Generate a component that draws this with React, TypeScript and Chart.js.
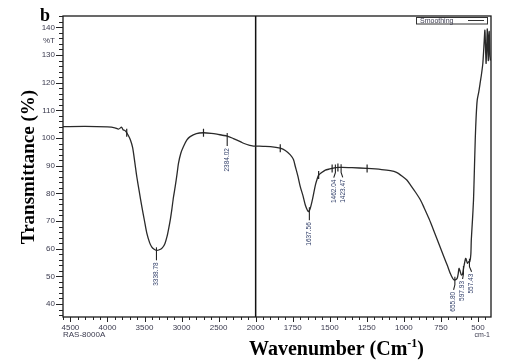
import React, { useEffect, useRef } from 'react';
import { Chart, registerables } from 'chart.js';

Chart.register(...registerables);

// ---- data ----
const wavenumbers = [
  4600, 4300, 4000, 3900, 3850, 3810, 3790, 3770, 3750, 3720, 3690, 3660, 3630, 3604, 3570, 3536, 3500, 3469, 3430, 3401,
  3370, 3339, 3300, 3260, 3225, 3195, 3170, 3150, 3132, 3110, 3086, 3060, 3041, 3010, 2974, 2930, 2884, 2800, 2704, 2600,
  2523, 2450, 2384, 2300, 2200, 2164, 2080, 2030, 2000, 1950, 1900, 1834, 1800, 1766, 1745, 1732, 1715, 1699, 1680, 1665,
  1650, 1642, 1632, 1620, 1608, 1597, 1585, 1575, 1560, 1530, 1500, 1484, 1462, 1440, 1423, 1350, 1248, 1150, 1091, 1050,
  1011, 980, 955, 920, 888, 865, 830, 798, 760, 730, 705, 685, 670, 662, 650, 640, 633, 628, 620, 612,
  605, 595, 583, 576, 571, 563, 555, 548, 545, 537, 530, 526, 518, 512, 505, 495, 484, 475, 467, 460,
  453, 448, 445, 440, 437, 434, 430, 427, 424, 420, 416,
];
const transmittance = [
  104.1, 104.2, 104.0, 103.7, 103.2, 103.9, 103.0, 102.8, 102.3, 101.0, 99.3, 96.5, 91.0, 86.0, 80.5, 75.2, 70.0, 65.6, 62.1, 60.6,
  59.8, 59.4, 59.6, 60.3, 61.8, 64.5, 67.8, 70.8, 74.0, 78.5, 82.4, 87.2, 90.9, 94.5, 96.9, 99.2, 100.5, 101.6, 101.9, 101.7,
  101.4, 101.0, 100.7, 99.8, 98.6, 98.1, 97.3, 97.1, 97.1, 97.0, 96.9, 96.3, 95.5, 93.9, 92.2, 89.6, 86.2, 82.4, 79.0, 75.8,
  73.8, 73.4, 74.5, 77.0, 80.1, 83.0, 85.2, 86.6, 87.3, 88.4, 88.8, 89.0, 89.3, 89.4, 89.4, 89.3, 89.0, 88.6, 88.2, 87.6,
  86.2, 84.8, 83.0, 80.3, 77.6, 75.0, 70.8, 66.5, 61.2, 57.1, 53.7, 50.8, 49.2, 48.7, 48.8, 49.3, 51.0, 52.9, 51.8, 50.5,
  50.6, 53.5, 56.5, 55.5, 54.7, 55.3, 55.3, 58.0, 63.1, 70.4, 77.6, 84.8, 100.0, 108.0, 113.7, 116.5, 120.3, 123.5, 127.0, 133.0,
  139.0, 131.0, 127.0, 135.0, 139.4, 133.0, 128.0, 137.0, 138.5, 130.0, 128.0,
];

const peakWavenumbers = [3338.78, 2384.02, 1637.56, 1462.04, 1423.47, 655.8, 597.93, 557.43];
const peakLabels = ['3338.78', '2384.02', '1637.56', '1462.04', '1423.47', '655.80', '597.93', '557.43'];
const markerWavenumbers = [3740, 2704, 1834, 1575, 1484, 1445, 1248];

const xTickLabelsLeft = [4500, 4000, 3500, 3000, 2500, 2000];
const xTickLabelsRight = [1750, 1500, 1250, 1000, 750, 500];
const yTickLabels = [40, 50, 60, 70, 80, 90, 100, 110, 120, 130, 140];

const X_HIGH = 4600;
const X_SPLIT = 2000;
const X_LOW = 412;
const RIGHT_STRETCH = 2;
const Y_MIN = 35.3;
const Y_MAX = 144.1;

// piecewise position: the region below 2000 cm-1 is drawn twice as wide
const pos = (w: number) => (w >= X_SPLIT ? X_HIGH - w : X_HIGH - X_SPLIT + RIGHT_STRETCH * (X_SPLIT - w));

const interp = (w: number) => {
  for (let i = 0; i < wavenumbers.length - 1; i++) {
    const a = wavenumbers[i];
    const b = wavenumbers[i + 1];
    if (w <= a && w >= b) {
      const t = (a - w) / (a - b);
      return transmittance[i] + t * (transmittance[i + 1] - transmittance[i]);
    }
  }
  return transmittance[transmittance.length - 1];
};

const SANS = '"Liberation Sans", Arial, sans-serif';
const SERIF = '"Liberation Serif", "Times New Roman", serif';

const overlay = {
  id: 'overlay',
  beforeDraw(chart: any) {
    const { ctx, width, height } = chart;
    ctx.save();
    ctx.fillStyle = '#ffffff';
    ctx.fillRect(0, 0, width, height);
    ctx.restore();
  },
  afterDraw(chart: any) {
    const { ctx, chartArea: a } = chart;
    const xs = chart.scales.x;
    const ys = chart.scales.y;
    const px = (w: number) => xs.getPixelForValue(pos(w));
    const py = (v: number) => ys.getPixelForValue(v);
    ctx.save();

    // frame
    ctx.strokeStyle = '#1a1a1a';
    ctx.lineWidth = 1.3;
    ctx.strokeRect(a.left, a.top, a.right - a.left, a.bottom - a.top);

    // x ticks
    ctx.lineWidth = 1;
    ctx.strokeStyle = '#222';
    ctx.beginPath();
    for (let w = X_HIGH; w >= X_SPLIT; w -= 100) {
      const x = Math.round(px(w)) + 0.5;
      const len = w % 500 === 0 ? 5 : 3;
      ctx.moveTo(x, a.bottom);
      ctx.lineTo(x, a.bottom + len);
    }
    for (let w = X_SPLIT - 50; w >= 450; w -= 50) {
      const x = Math.round(px(w)) + 0.5;
      const len = w % 250 === 0 ? 5 : 3;
      ctx.moveTo(x, a.bottom);
      ctx.lineTo(x, a.bottom + len);
    }
    // y ticks
    for (let v = 36; v <= 144; v += 2) {
      const y = Math.round(py(v)) + 0.5;
      const len = v % 10 === 0 ? 7 : 4;
      ctx.moveTo(a.left - len, y);
      ctx.lineTo(a.left, y);
    }
    ctx.stroke();

    // tick labels
    ctx.fillStyle = '#3a3a4e';
    ctx.font = `8px ${SANS}`;
    ctx.textAlign = 'center';
    ctx.textBaseline = 'middle';
    [...xTickLabelsLeft, ...xTickLabelsRight].forEach((w) => {
      ctx.fillText(String(w), px(w), a.bottom + 11);
    });
    ctx.textAlign = 'right';
    yTickLabels.forEach((v) => ctx.fillText(String(v), a.left - 8, py(v)));
    ctx.fillText('%T', a.left - 8, py(135.2));

    ctx.textAlign = 'left';
    ctx.fillText('RAS-8000A', a.left, a.bottom + 18);
    ctx.font = `7px ${SANS}`;
    ctx.textAlign = 'right';
    ctx.fillText('cm-1', a.right - 1, a.bottom + 18);

    // markers on the curve
    ctx.strokeStyle = '#222';
    ctx.lineWidth = 1.2;
    ctx.beginPath();
    markerWavenumbers.forEach((w) => {
      const x = px(w);
      const y = py(interp(w));
      ctx.moveTo(x, y - 4);
      ctx.lineTo(x, y + 4);
    });
    ctx.stroke();

    // peak labels (spread out when crowded)
    const items = peakWavenumbers.map((w, i) => ({ w, label: peakLabels[i], x: px(w), lx: px(w), y: py(interp(w)) }));
    const sorted = [...items].sort((p, q) => p.x - q.x);
    for (let it = 0; it < 20; it++) {
      for (let i = 0; i < sorted.length - 1; i++) {
        const gap = sorted[i + 1].lx - sorted[i].lx;
        if (gap < 9) {
          const d = (9 - gap) / 2;
          sorted[i].lx -= d;
          sorted[i + 1].lx += d;
        }
      }
    }
    ctx.font = `6.5px ${SANS}`;
    ctx.fillStyle = '#33406a';
    items.forEach((p) => {
      const top = p.y + 12;
      ctx.strokeStyle = '#222';
      ctx.lineWidth = 1.1;
      ctx.beginPath();
      ctx.moveTo(p.x, p.y - 3);
      ctx.lineTo(p.x, p.y + 5);
      ctx.lineTo(p.lx, top - 2);
      ctx.stroke();
      ctx.save();
      ctx.translate(p.lx, top);
      ctx.rotate(-Math.PI / 2);
      ctx.textAlign = 'right';
      ctx.textBaseline = 'middle';
      ctx.fillText(p.label, 0, 0);
      ctx.restore();
    });

    // legend box
    ctx.fillStyle = '#ffffff';
    ctx.fillRect(416, 17, 71, 7);
    ctx.strokeStyle = '#333';
    ctx.lineWidth = 1;
    ctx.strokeRect(416.5, 17.5, 71, 6.5);
    ctx.fillStyle = '#3a3a4e';
    ctx.font = `7px ${SANS}`;
    ctx.textAlign = 'left';
    ctx.textBaseline = 'middle';
    ctx.fillText('Smoothing', 420, 21);
    ctx.beginPath();
    ctx.moveTo(468, 20.5);
    ctx.lineTo(484, 20.5);
    ctx.stroke();

    // titles
    ctx.fillStyle = '#000';
    ctx.font = `bold 18px ${SERIF}`;
    ctx.textAlign = 'left';
    ctx.textBaseline = 'alphabetic';
    ctx.fillText('b', 40, 21);

    ctx.save();
    ctx.translate(34, 167);
    ctx.rotate(-Math.PI / 2);
    ctx.font = `bold 19px ${SERIF}`;
    ctx.textAlign = 'center';
    ctx.fillText('Transmittance (%)', 0, 0);
    ctx.restore();

    const base = 355;
    let x = 249;
    ctx.font = `bold 20px ${SERIF}`;
    const main = 'Wavenumber (Cm';
    ctx.fillText(main, x, base);
    x += ctx.measureText(main).width;
    ctx.font = `bold 12px ${SERIF}`;
    ctx.fillText('-1', x, base - 8);
    x += ctx.measureText('-1').width;
    ctx.font = `bold 20px ${SERIF}`;
    ctx.fillText(')', x, base);

    ctx.restore();
  },
};

export default function App() {
  const ref = useRef<HTMLCanvasElement>(null);

  useEffect(() => {
    if (!ref.current) return;
    const spectrum = wavenumbers.map((w, i) => ({ x: pos(w), y: transmittance[i] }));
    const split = [
      { x: pos(X_SPLIT), y: Y_MIN },
      { x: pos(X_SPLIT), y: Y_MAX },
    ];
    const chart = new Chart(ref.current, {
      type: 'line',
      data: {
        datasets: [
          {
            label: 'Smoothing',
            data: spectrum,
            borderColor: '#2a2a2a',
            borderWidth: 1.3,
            pointRadius: 0,
            tension: 0.25,
            fill: false,
          },
          {
            label: 'split',
            data: split,
            borderColor: '#111',
            borderWidth: 1.5,
            pointRadius: 0,
            tension: 0,
            fill: false,
          },
        ],
      },
      options: {
        responsive: false,
        animation: false,
        devicePixelRatio: 1,
        layout: { padding: { left: 63, top: 16, right: 16, bottom: 46 } },
        plugins: { legend: { display: false }, tooltip: { enabled: false } },
        scales: {
          x: { type: 'linear', min: pos(X_HIGH), max: pos(X_LOW), display: false },
          y: { type: 'linear', min: Y_MIN, max: Y_MAX, display: false },
        },
      },
      plugins: [overlay],
    });
    return () => chart.destroy();
  }, []);

  return (
    <div style={{ position: 'fixed', left: 0, top: 0, width: 507, height: 363, background: '#fff' }}>
      <canvas ref={ref} width={507} height={363} style={{ width: 507, height: 363, display: 'block' }} />
    </div>
  );
}
